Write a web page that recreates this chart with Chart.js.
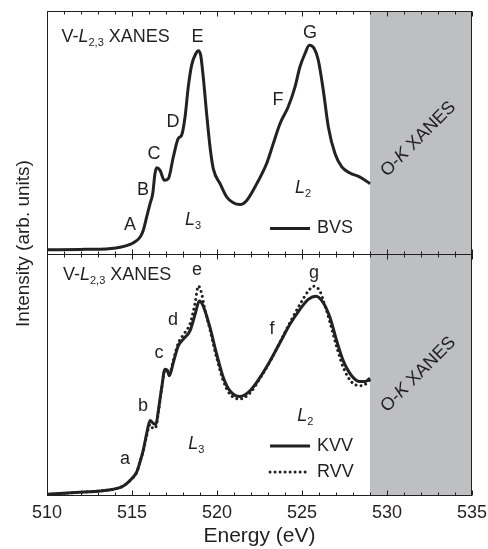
<!DOCTYPE html>
<html><head><meta charset="utf-8">
<script src="https://cdn.jsdelivr.net/npm/chart.js@4.4.0/dist/chart.umd.min.js"></script>
<style>html,body{margin:0;padding:0;background:#fff;}#wrap{width:488px;height:549px;}</style>
</head><body><div id="wrap"><canvas id="c" width="488" height="549"></canvas></div>
<script>
// ---- data (energy in eV, intensity in arb. units 0-100 per panel) ----
const energyBVS = [510.00,511.94,513.12,514.29,515.06,515.47,515.66,515.86,516.06,516.22,516.35,516.45,516.65,516.90,517.14,517.43,517.72,517.92,518.12,518.31,518.51,518.76,518.90,519.04,519.19,519.39,519.59,519.78,520.18,520.57,520.96,521.35,521.75,522.34,522.92,523.31,523.71,524.19,524.59,524.88,525.18,525.43,525.71,525.96,526.25,526.55,526.94,527.34,527.82,528.41,529.00];
const bvs = [1.5,1.7,1.8,2.6,4.3,6.7,9.5,15.0,20.5,24.7,32.9,35.4,34.3,30.2,30.9,39.8,47.4,48.8,56.3,68.7,77.7,82.5,83.6,81.8,72.8,57.7,43.9,35.0,28.8,23.3,20.9,20.2,21.9,28.8,37.1,45.3,53.6,60.5,68.7,77.0,82.5,85.9,84.6,79.7,67.4,52.2,41.2,35.7,33.2,31.5,28.8];

const energyKVV = [510.00,512.14,513.12,513.90,514.49,514.98,515.28,515.47,515.66,515.86,516.06,516.25,516.41,516.55,516.75,516.94,517.08,517.19,517.43,517.72,518.02,518.41,518.71,518.96,519.19,519.59,519.98,520.37,520.76,521.35,521.94,522.53,523.12,523.71,524.29,524.88,525.37,525.82,526.25,526.65,527.04,527.43,527.92,528.41,528.71,529.00];
const kvv = [0.7,1.6,2.1,2.8,4.1,7.1,9.9,14.0,18.8,25.6,31.1,30.0,29.5,35.2,44.8,52.3,51.9,49.6,55.0,61.9,64.7,68.1,74.9,80.4,78.3,69.4,58.5,48.9,43.4,41.0,43.4,48.9,55.7,63.3,70.8,77.0,81.1,82.4,79.7,73.5,64.0,55.7,49.6,47.2,47.2,48.6];

const energyRVV = [510.00,512.14,513.12,513.90,514.49,514.98,515.28,515.47,515.66,515.86,516.06,516.25,516.41,516.55,516.75,516.94,517.08,517.19,517.43,517.72,518.02,518.41,518.71,518.90,519.08,519.25,519.59,519.98,520.37,520.76,521.35,521.94,522.53,523.12,523.71,524.29,524.88,525.37,525.71,526.05,526.35,526.65,527.04,527.43,527.92,528.41,528.71,529.00];
const rvv = [0.7,1.6,2.1,2.8,4.1,7.0,9.8,14.2,18.5,24.8,29.5,27.8,28.5,34.5,44.5,52.0,51.5,50.0,56.0,63.0,66.5,71.0,79.5,86.6,84.0,78.0,68.5,57.0,47.5,42.0,40.0,42.5,48.5,55.5,63.5,71.5,79.0,84.5,86.5,84.5,78.5,71.5,61.5,53.0,47.0,45.5,46.0,48.0];

const xTickValues = [510,515,520,525,530,535];
const shadeRange = [529, 535];
const seriesNames = ['BVS','KVV','RVV'];

// annotation anchors (data coordinates)
const topLetters = [['A',514.88,11.6],['B',515.65,26.0],['C',516.29,40.9],['D',517.41,54.1],['E',518.85,89.3],['F',523.59,63.2],['G',525.47,90.9]];
const botLetters = [['a',514.59,15.1],['b',515.65,37.3],['c',516.59,59.0],['d',517.41,72.6],['e',518.82,93.1],['f',523.24,68.9],['g',525.71,91.9]];

const FF = '"Liberation Sans", Arial, Helvetica, sans-serif';
const INK = '#231f20';

function richText(ctx, parts, x, y, align, size, sub) {
  size = size || 18;
  sub = sub || 11;
  const fonts = parts.map(p => p[1] === 'i' ? `italic ${size}px ${FF}` : p[1] === 's' ? `${sub}px ${FF}` : `${size}px ${FF}`);
  let w = 0;
  parts.forEach((p, i) => { ctx.font = fonts[i]; w += ctx.measureText(p[0]).width; });
  let cx = align === 'center' ? x - w / 2 : x;
  ctx.textAlign = 'left';
  ctx.textBaseline = 'alphabetic';
  parts.forEach((p, i) => {
    ctx.font = fonts[i];
    ctx.fillText(p[0], cx, p[1] === 's' ? y + 4 : y);
    cx += ctx.measureText(p[0]).width;
  });
}

const panelPlugin = {
  id: 'panels',
  beforeDatasetsDraw(chart) {
    const {ctx, chartArea: a, scales: {x}} = chart;
    ctx.save();
    ctx.fillStyle = '#bebfc1';
    const x0 = x.getPixelForValue(shadeRange[0]), x1 = x.getPixelForValue(shadeRange[1]);
    ctx.fillRect(x0, a.top, x1 - x0, a.bottom - a.top);
    ctx.restore();
  },
  afterDatasetsDraw(chart) {
    const {ctx, chartArea: a, scales: {x, yTop, yBot}} = chart;
    ctx.save();
    ctx.strokeStyle = INK;
    ctx.lineWidth = 1;
    const L = Math.round(a.left) + 0.5, R = Math.round(a.right) - 0.5;
    const T = Math.round(yTop.top) + 0.5, M = Math.round(yTop.bottom) + 0.5, B = Math.round(yBot.bottom) - 0.5;
    ctx.strokeRect(L, T, R - L, B - T);
    ctx.beginPath(); ctx.moveTo(L, M); ctx.lineTo(R, M); ctx.stroke();
    ctx.beginPath();
    for (let v = 510; v <= 535; v++) {
      const px = Math.round(x.getPixelForValue(v)) + 0.5;
      const len = v % 5 === 0 ? 5 : 3;
      ctx.moveTo(px, T); ctx.lineTo(px, T + len);
      ctx.moveTo(px, M - len); ctx.lineTo(px, M + len);
      ctx.moveTo(px, B); ctx.lineTo(px, B - len);
    }
    ctx.stroke();
    ctx.restore();
  },
  afterDraw(chart) {
    const {ctx, chartArea: a, scales: {x, yTop, yBot}} = chart;
    ctx.save();
    ctx.fillStyle = INK;
    ctx.strokeStyle = INK;
    // peak letters
    ctx.font = `18px ${FF}`;
    ctx.textAlign = 'center';
    ctx.textBaseline = 'middle';
    topLetters.forEach(([t, e, v]) => ctx.fillText(t, x.getPixelForValue(e), yTop.getPixelForValue(v)));
    botLetters.forEach(([t, e, v]) => ctx.fillText(t, x.getPixelForValue(e), yBot.getPixelForValue(v)));
    // panel titles
    const title = [['V-','n'],['L','i'],['2,3','s'],[' XANES','n']];
    richText(ctx, title, x.getPixelForValue(510.85), yTop.getPixelForValue(87.3), 'left');
    richText(ctx, title, x.getPixelForValue(510.94), yBot.getPixelForValue(89.0), 'left');
    richText(ctx, [['L','i'],['3','s']], x.getPixelForValue(518.12), yTop.getPixelForValue(11.6), 'left');
    richText(ctx, [['L','i'],['2','s']], x.getPixelForValue(524.59), yTop.getPixelForValue(24.8), 'left');
    richText(ctx, [['L','i'],['3','s']], x.getPixelForValue(518.31), yBot.getPixelForValue(19.5), 'left');
    richText(ctx, [['L','i'],['2','s']], x.getPixelForValue(524.72), yBot.getPixelForValue(31.1), 'left');
    // O-K XANES rotated
    const ok = [['O-','n'],['K','i'],[' XANES','n']];
    [[yTop, 47.5], [yBot, 50.4]].forEach(([sc, v]) => {
      ctx.save();
      ctx.translate(x.getPixelForValue(531.8), sc.getPixelForValue(v));
      ctx.rotate(-Math.PI / 4);
      richText(ctx, ok, 0, 6, 'center', 18);
      ctx.restore();
    });
    // legends
    const leg = (sc, v, name, dashed) => {
      const py = sc.getPixelForValue(v);
      ctx.save();
      ctx.lineWidth = 3;
      if (dashed) { ctx.setLineDash([0.01, 5]); ctx.lineCap = 'round'; }
      ctx.beginPath();
      ctx.moveTo(x.getPixelForValue(523.12), py);
      ctx.lineTo(x.getPixelForValue(525.47), py);
      ctx.stroke();
      ctx.restore();
      ctx.font = `18px ${FF}`;
      ctx.textAlign = 'left';
      ctx.textBaseline = 'middle';
      ctx.fillText(name, x.getPixelForValue(525.88), py);
    };
    leg(yTop, 10.3, seriesNames[0], false);
    leg(yBot, 20.6, seriesNames[1], false);
    leg(yBot, 9.9, seriesNames[2], true);
    // y axis title
    ctx.save();
    ctx.translate(a.left - 18, yTop.bottom - 10);
    ctx.rotate(-Math.PI / 2);
    ctx.font = `19px ${FF}`;
    ctx.textAlign = 'center';
    ctx.textBaseline = 'alphabetic';
    ctx.fillText('Intensity (arb. units)', 0, 0);
    ctx.restore();
    ctx.restore();
  }
};

const toXY = (xs, ys) => xs.map((e, i) => ({x: e, y: ys[i]}));
const lineBase = {borderColor: '#222', borderWidth: 3, pointRadius: 0, fill: false, cubicInterpolationMode: 'monotone'};

new Chart(document.getElementById('c'), {
  type: 'line',
  data: {
    datasets: [
      Object.assign({label: seriesNames[0], data: toXY(energyBVS, bvs), yAxisID: 'yTop', xAxisID: 'x'}, lineBase),
      Object.assign({label: seriesNames[1], data: toXY(energyKVV, kvv), yAxisID: 'yBot', xAxisID: 'x'}, lineBase),
      Object.assign({label: seriesNames[2], data: toXY(energyRVV, rvv), yAxisID: 'yBot', xAxisID: 'x'}, lineBase, {borderDash: [0.01, 5], borderCapStyle: 'round', borderWidth: 3})
    ]
  },
  options: {
    responsive: false,
    animation: false,
    devicePixelRatio: 1,
    layout: {padding: {top: 11, right: 16, left: 0, bottom: 0}},
    plugins: {legend: {display: false}, tooltip: {enabled: false}, title: {display: false}},
    scales: {
      x: {
        type: 'linear', position: 'bottom', min: 510, max: 535,
        afterBuildTicks: s => { s.ticks = xTickValues.map(v => ({value: v})); },
        grid: {display: false, drawTicks: false},
        border: {display: false},
        ticks: {color: INK, font: {family: FF, size: 18}, padding: 6, maxRotation: 0},
        title: {display: true, text: 'Energy (eV)', color: INK, font: {family: FF, size: 21}, padding: {top: 0, bottom: 0}},
        afterFit: s => { s.height = 53; s.paddingLeft = 0; s.paddingRight = 0; }
      },
      yBot: {
        type: 'linear', position: 'left', stack: 'v', stackWeight: 1, min: 0, max: 100,
        grid: {display: false, drawTicks: false}, border: {display: false},
        ticks: {display: false},
        afterFit: s => { s.width = 47; }
      },
      yTop: {
        type: 'linear', position: 'left', stack: 'v', stackWeight: 1, min: 0, max: 100,
        grid: {display: false, drawTicks: false}, border: {display: false},
        ticks: {display: false},
        afterFit: s => { s.width = 47; }
      }
    }
  },
  plugins: [panelPlugin]
});
</script></body></html>
